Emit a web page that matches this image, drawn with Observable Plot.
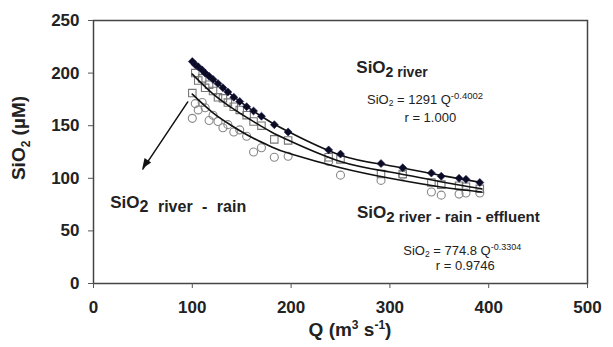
<!DOCTYPE html>
<html>
<head>
<meta charset="utf-8">
<script src="https://cdn.jsdelivr.net/npm/d3@7"></script>
<script src="https://cdn.jsdelivr.net/npm/@observablehq/plot@0.6"></script>
<style>
  html, body { margin: 0; padding: 0; background: #fff; }
  #chart svg { display: block; font-family: "Liberation Sans", Arial, sans-serif; }
</style>
</head>
<body>
<div id="chart"></div>
<script>
// ---- data ----
const discharge = [100, 103, 106, 110, 113, 117, 121, 126, 131, 136, 142, 148, 155, 162, 170, 183, 197, 238, 250, 291, 313, 342, 352, 370, 377, 391];
const sio2River = [211, 208, 206, 203, 200, 197, 194, 190, 186, 182, 177, 173, 168, 164, 159, 151, 144, 127, 123, 114, 110, 105, 102, 100, 99, 96];
const sio2RiverRain = [181, 200, 193, 195, 186, 189, 183, 177, 176, 172, 168, 165, 160, 154, 150, 137, 136, 120, 118, 104, 104, 96, 94, 93, 92, 90];
const sio2RiverRainEffluent = [157, 171, 165, 172, 167, 155, 160, 154, 148, 151, 144, 146, 140, 125, 129, 120, 121, 116, 103, 98, 103, 87, 84, 85, 86, 86];

// fitted power-law curves as drawn in the reference
const fitQ = [100, 120, 140, 160, 180, 200, 250, 300, 350, 393];
const fitRiver = [211, 195, 179, 165, 153, 143, 122, 112, 103, 96];
const fitRiverRain = [199, 181, 167, 155, 144, 135, 116, 106, 97, 90];
const fitRiverRainEffluent = [180, 163, 150, 139, 130, 123, 110, 100, 92, 87];

const xTicks = [0, 100, 200, 300, 400, 500];
const yTicks = [0, 50, 100, 150, 200, 250];

// ---- tables ----
const pts = (ys) => discharge.map((q, i) => ({q, v: ys[i]}));
const fit = (ys) => fitQ.map((q, i) => ({q, v: ys[i]}));
const riverPts = pts(sio2River);
const rainPts = pts(sio2RiverRain);
const effPts = pts(sio2RiverRainEffluent);
const arrowSpec = [{x1: 95.4, y1: 172.6, x2: 49.9, y2: 108.8}];

const FONT = '"Liberation Sans", Arial, sans-serif';
const INK = "#222";

const plot = Plot.plot({
  width: 613,
  height: 347,
  marginLeft: 93,
  marginRight: 26,
  marginTop: 20,
  marginBottom: 64,
  style: {fontFamily: FONT, color: INK, background: "#fff"},
  x: {domain: [0, 500], ticks: xTicks, label: null},
  y: {domain: [0, 250], ticks: yTicks, label: null},
  marks: [
    Plot.frame({stroke: "#444", strokeWidth: 1.5}),
    Plot.axisX({ticks: xTicks, tickSize: 5, tickPadding: 12, fontSize: 17, fontWeight: "bold", stroke: "#555", label: null}),
    Plot.axisY({ticks: yTicks, tickSize: 5, tickPadding: 9, fontSize: 17, fontWeight: "bold", stroke: "#555", label: null}),
    Plot.dot(effPts, {x: "q", y: "v", r: 4, stroke: "#888", strokeWidth: 1.1, fill: "none"}),
    Plot.dot(rainPts, {x: "q", y: "v", symbol: "square", r: 4.2, stroke: "#777", strokeWidth: 1.1, fill: "none"}),
    Plot.line(fit(fitRiverRainEffluent), {x: "q", y: "v", stroke: "#111", strokeWidth: 1.6, curve: "natural"}),
    Plot.line(fit(fitRiverRain), {x: "q", y: "v", stroke: "#111", strokeWidth: 1.6, curve: "natural"}),
    Plot.line(fit(fitRiver), {x: "q", y: "v", stroke: "#111", strokeWidth: 1.6, curve: "natural"}),
    Plot.dot(riverPts, {x: "q", y: "v", symbol: "diamond2", r: 3.6, fill: "#0b0b22", stroke: "#1a1a55", strokeWidth: 0.6}),
    Plot.arrow(arrowSpec, {x1: "x1", y1: "y1", x2: "x2", y2: "y2", stroke: "#111", strokeWidth: 1.5, headLength: 0})
  ]
});

document.getElementById("chart").appendChild(plot);

const sx = plot.scale("x"), sy = plot.scale("y");
const svg = d3.select(plot);

// filled arrow head at the arrow tip, oriented along the arrow (through Plot's scales)
for (const a of arrowSpec) {
  const X1 = sx.apply(a.x1), Y1 = sy.apply(a.y1), X2 = sx.apply(a.x2), Y2 = sy.apply(a.y2);
  const ang = Math.atan2(Y2 - Y1, X2 - X1);
  const L = 10, W = 4;
  const bx = X2 - L * Math.cos(ang), by = Y2 - L * Math.sin(ang);
  const px = -Math.sin(ang) * W, py = Math.cos(ang) * W;
  svg.append("path")
    .attr("d", `M${X2},${Y2}L${bx + px},${by + py}L${bx - px},${by - py}Z`)
    .attr("fill", "#111");
}

// ---- rich-text annotations (sub/superscripts) placed through Plot's scales ----
function rich(x, y, parts, opts = {}) {
  const t = svg.append("text")
    .attr("x", x).attr("y", y)
    .attr("fill", INK)
    .attr("font-family", FONT)
    .attr("text-anchor", opts.anchor || "start")
    .attr("font-weight", opts.weight || "bold");
  if (opts.rotate) t.attr("transform", `rotate(${opts.rotate},${x},${y})`);
  let prev = 0;
  for (const p of parts) {
    const off = p.off || 0;
    const s = t.append("tspan")
      .attr("font-size", p.size)
      .attr("dy", off - prev)
      .text(p.t);
    if (p.ws) s.attr("word-spacing", p.ws);
    prev = off;
  }
  return t;
}

const annotations = [
  {q: 266.5, v: 199.8, anchor: "start", parts: [{t: "SiO", size: 17}, {t: "2 river", size: 14, off: 4}]},
  {q: 277.3, v: 170.4, anchor: "start", weight: "normal", parts: [{t: "SiO", size: 13}, {t: "2", size: 8.5, off: 2}, {t: " = 1291 Q", size: 13}, {t: "-0.4002", size: 9.5, off: -5}]},
  {q: 341.4, v: 153.4, anchor: "middle", weight: "normal", parts: [{t: "r = 1.000", size: 13}]},
  {q: 17.5, v: 71.4, anchor: "start", parts: [{t: "SiO", size: 17}, {t: "2 river - rain", size: 16, off: 4, ws: 5}]},
  {q: 267.2, v: 61.9, anchor: "start", parts: [{t: "SiO", size: 17}, {t: "2 river - rain - effluent", size: 15, off: 4}]},
  {q: 314, v: 26.2, anchor: "start", weight: "normal", parts: [{t: "SiO", size: 13}, {t: "2", size: 8.5, off: 2}, {t: " = 774.8 Q", size: 13}, {t: "-0.3304", size: 9, off: -5}]},
  {q: 376.8, v: 12.1, anchor: "middle", weight: "normal", parts: [{t: "r = 0.9746", size: 13}]}
];
for (const a of annotations) rich(sx.apply(a.q), sy.apply(a.v), a.parts, {anchor: a.anchor, weight: a.weight});

// axis titles
rich((sx.apply(0) + sx.apply(500)) / 2 + 10, 336, [{t: "Q (m", size: 19}, {t: "3", size: 12, off: -7}, {t: " s", size: 19}, {t: "-1", size: 12, off: -7}, {t: ")", size: 19}], {anchor: "middle"});
rich(25, 138, [{t: "SiO", size: 19}, {t: "2", size: 12, off: 5}, {t: " (µM)", size: 19}], {anchor: "middle", rotate: -90});
</script>
</body>
</html>
